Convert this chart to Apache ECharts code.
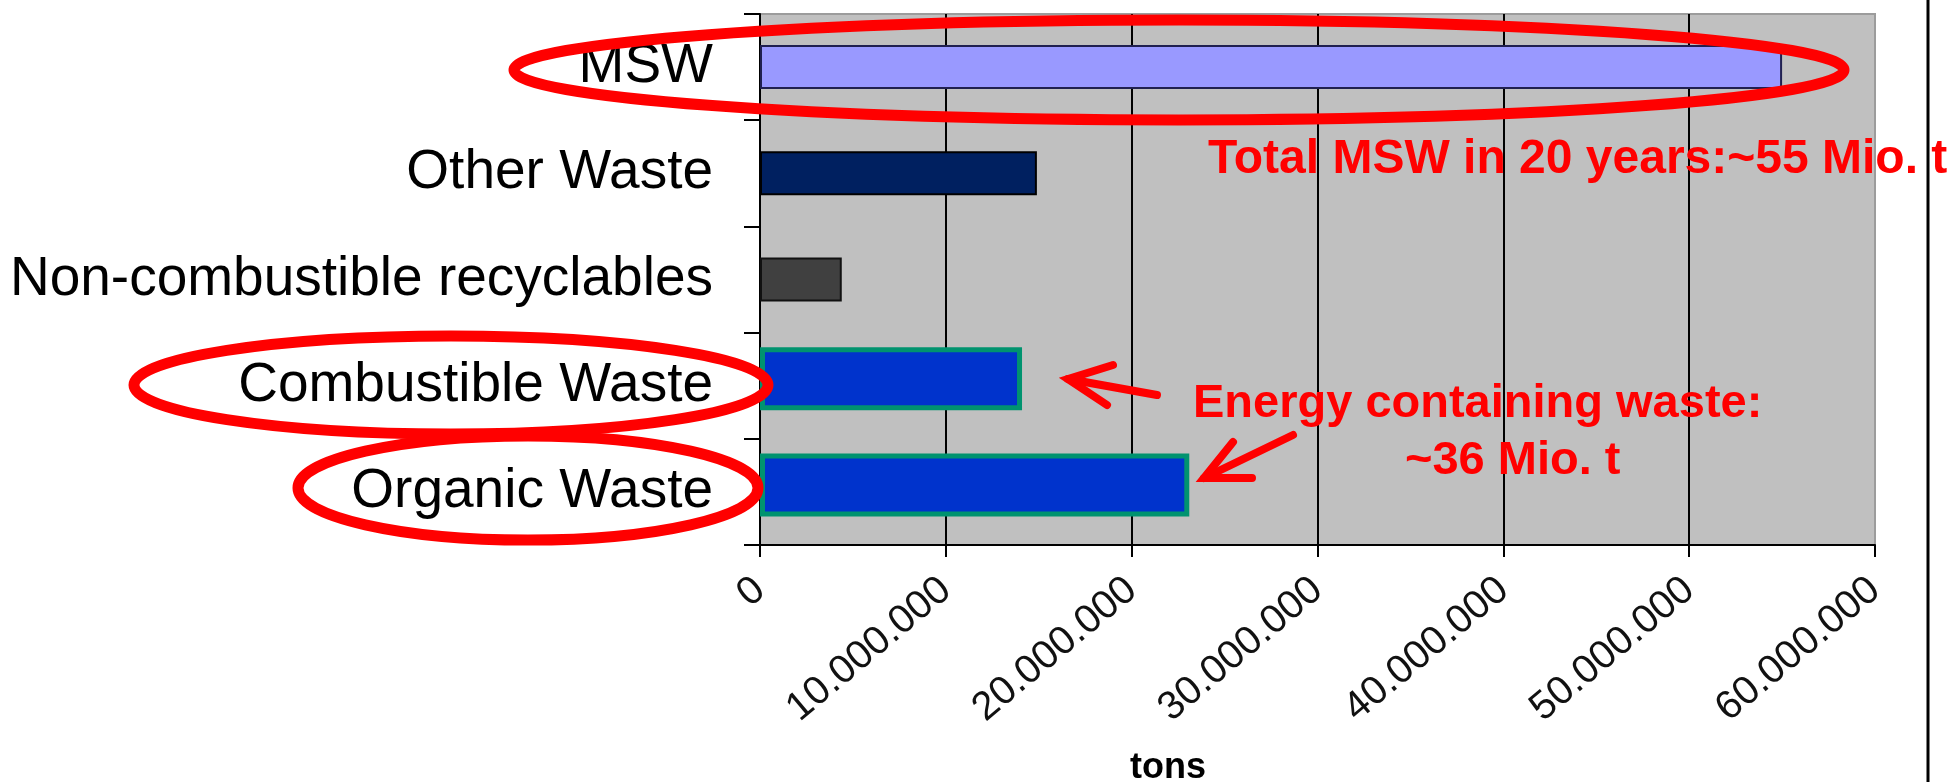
<!DOCTYPE html>
<html>
<head>
<meta charset="utf-8">
<script src="https://cdn.jsdelivr.net/npm/echarts@6/dist/echarts.min.js"></script>
<style>
  html, body { margin: 0; padding: 0; background: #ffffff; }
  #chart { width: 1957px; height: 782px; }
</style>
</head>
<body>
<div id="chart"></div>
<script>
// Waste quantities over 20 years, in tons
const categories = ['MSW', 'Other Waste', 'Non-combustible recyclables', 'Combustible Waste', 'Organic Waste'];
const wasteTons = [55000000, 14900000, 4400000, '-', '-'];
const energyWasteTons = ['-', '-', '-', 14100000, 23100000];
const xTickLabels = ['0', '10.000.000', '20.000.000', '30.000.000', '40.000.000', '50.000.000', '60.000.000'];
const xTickStep = 10000000;
const xMax = 60000000;

const barFills = ['#9999ff', '#002060', '#404040'];
const barEdges = ['#202050', '#000000', '#111111'];

const FONT = '"Liberation Sans", Arial, sans-serif';
const chart = echarts.init(document.getElementById('chart'), null, { renderer: 'canvas' });

const plainBars = wasteTons.map((v, i) => (v === '-' ? '-' : {
  value: v,
  itemStyle: { color: barFills[i], borderColor: barEdges[i], borderWidth: 2 }
}));

const ring = (cx, cy, rx, ry) => ({
  type: 'ellipse', z: 100,
  shape: { cx, cy, rx, ry },
  style: { fill: 'none', stroke: '#ff0000', lineWidth: 11 }
});
const arrowPart = (points) => ({
  type: 'polyline', z: 100,
  shape: { points },
  style: { fill: 'none', stroke: '#ff0000', lineWidth: 8, lineCap: 'round', lineJoin: 'miter' }
});
const note = (text, x, y, size, align) => ({
  type: 'text', z: 90, x, y,
  style: {
    text, fill: '#ff0000', font: 'bold ' + size + 'px ' + FONT,
    align: align || 'left', verticalAlign: 'middle'
  }
});

chart.setOption({
  animation: false,
  backgroundColor: '#ffffff',
  grid: [
    { left: 760, right: 82, top: 14, bottom: 237, show: true,
      backgroundColor: '#c0c0c0', borderColor: '#9c9c9c', borderWidth: 2 },
    { left: 760, right: 82, top: 7, bottom: 244, show: false }
  ],
  xAxis: [
    {
      type: 'value', gridIndex: 0, min: 0, max: xMax, interval: xTickStep,
      axisLine: { show: true, lineStyle: { color: '#000000', width: 2 } },
      axisTick: { show: true, length: 12, lineStyle: { color: '#000000', width: 2 } },
      splitLine: { show: true, showMaxLine: false, lineStyle: { color: '#000000', width: 2 } },
      axisLabel: {
        rotate: 40, margin: 40, fontSize: 40, fontFamily: FONT, color: '#111111',
        formatter: (v) => xTickLabels[Math.round(v / xTickStep)]
      }
    },
    { type: 'value', gridIndex: 1, min: 0, max: xMax, show: false, splitLine: { show: false } }
  ],
  yAxis: [
    {
      type: 'category', gridIndex: 0, data: categories, inverse: true,
      axisLine: { show: true, lineStyle: { color: '#000000', width: 2 } },
      axisTick: { show: true, length: 16, lineStyle: { color: '#000000', width: 2 } },
      axisLabel: { fontSize: 55, margin: 47, fontFamily: FONT, color: '#000000' }
    },
    { type: 'category', gridIndex: 1, data: categories, inverse: true, show: false }
  ],
  series: [
    {
      type: 'bar', xAxisIndex: 0, yAxisIndex: 0, barWidth: 44,
      data: plainBars
    },
    {
      type: 'bar', xAxisIndex: 1, yAxisIndex: 1, barWidth: 63,
      itemStyle: { color: '#0033cc', borderColor: '#00936f', borderWidth: 5 },
      data: energyWasteTons
    }
  ],
  graphic: [
    // slide frame edge
    { type: 'line', z: 80, shape: { x1: 1928, y1: 0, x2: 1928, y2: 782 },
      style: { stroke: '#000000', lineWidth: 3 } },
    // axis title
    { type: 'text', z: 90, x: 1168, y: 768,
      style: { text: 'tons', fill: '#000000', font: 'bold 36px ' + FONT, align: 'center', verticalAlign: 'middle' } },
    note('Total MSW in 20 years:~55 Mio. t', 1208, 160, 48),
    note('Energy containing waste:', 1193, 404, 47),
    note('~36 Mio. t', 1405, 461, 47),
    ring(1179, 70, 665, 50),
    ring(451, 385, 317, 49),
    ring(528, 488, 230, 52),
    arrowPart([[1157, 395], [1068, 379]]),
    arrowPart([[1113, 365], [1068, 379], [1107, 405]]),
    arrowPart([[1293, 435], [1204, 478]]),
    arrowPart([[1233, 442], [1204, 478], [1252, 478]])
  ]
});
</script>
</body>
</html>
